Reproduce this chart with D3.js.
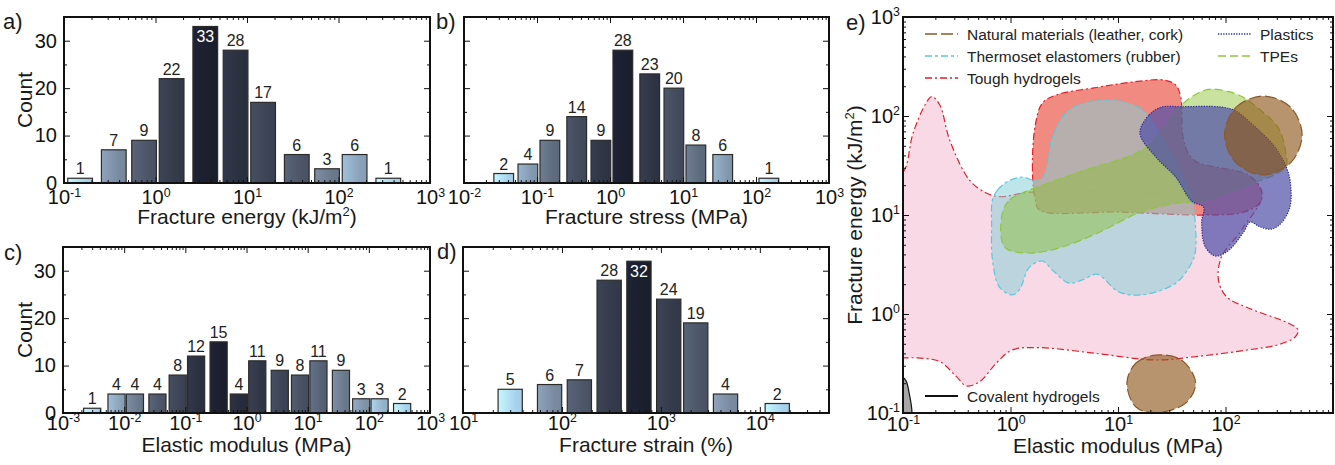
<!DOCTYPE html>
<html>
<head>
<meta charset="utf-8">
<script src="https://cdn.jsdelivr.net/npm/d3@7"></script>
<style>
body { margin: 0; background: #fff; }
svg { font-family: "Liberation Sans", Arial, Helvetica, sans-serif; }
</style>
</head>
<body>
<svg id="fig" width="1335" height="465"></svg>
<script>
//histogram data (bin centres, counts)//
var energyBins = [0.15, 0.35, 0.75, 1.5, 3.5, 7.5, 15, 35, 75, 150, 350];
var energyCounts = [1, 7, 9, 22, 33, 28, 17, 6, 3, 6, 1];

var stressBins = [0.035, 0.075, 0.15, 0.35, 0.75, 1.5, 3.5, 7.5, 15, 35, 150];
var stressCounts = [2, 4, 9, 14, 9, 28, 23, 20, 8, 6, 1];

var modulusBins = [0.003, 0.0075, 0.015, 0.035, 0.075, 0.15, 0.35, 0.75, 1.5, 3.5, 7.5, 15, 35, 75, 150, 350];
var modulusCounts = [1, 4, 4, 4, 8, 12, 15, 4, 11, 9, 8, 11, 9, 3, 3, 2];

var strainBins = [30, 75, 150, 300, 600, 1200, 2250, 4500, 15000];
var strainCounts = [5, 6, 7, 28, 32, 24, 19, 4, 2];

var countTicks = [0, 10, 20, 30];
var countMinor = [5, 15, 25];

//ashby regions: [elastic modulus MPa, fracture energy kJ/m2]//
var toughGels = [[0.08, 27], [0.1, 27.2], [0.124, 67], [0.16, 129], [0.185, 157], [0.22, 129], [0.272, 57],
  [0.417, 22.4], [0.6, 16.6], [0.8, 15.3], [1.5, 17], [20, 17], [214, 16.6], [141, 7.05], [92, 3.8],
  [86, 2.2], [102, 1.5], [163, 1.15], [383, 0.81], [474, 0.69], [445, 0.586], [310, 0.49], [153, 0.43],
  [52, 0.37], [22.3, 0.343], [6.2, 0.4], [1.86, 0.457], [1.03, 0.432], [0.74, 0.32], [0.516, 0.207],
  [0.39, 0.1875], [0.314, 0.233], [0.22, 0.33], [0.134, 0.36], [0.1, 0.36], [0.08, 0.36]];
var toughGelsHigh = [[1.7, 14.2], [1.6, 28.5], [1.7, 81], [1.98, 135], [2.67, 163], [6.67, 196], [13.5, 220],
  [26.7, 231], [34.4, 206], [38.3, 156], [40.8, 57], [50.6, 36], [163, 25.4], [215, 17.9], [211, 13.5],
  [147, 10.7], [65, 10], [10.2, 10.7], [1.86, 11.2]];
var thermosets = [[0.68, 14.2], [0.76, 17.9], [0.92, 21.5], [1.29, 24.2], [1.6, 22.6], [1.98, 23.7], [2.2, 33.5],
  [2.45, 61], [3.5, 115], [7.1, 145], [12.6, 135], [18.2, 107], [29.6, 45.4], [48.4, 15.2], [51.6, 10],
  [52.7, 4.43], [48.4, 3.27], [34.4, 2.05], [16.7, 1.56], [10.2, 1.67], [7.1, 2.37], [6.25, 2.53], [4.6, 2.2],
  [3.5, 2.05], [2.45, 2.78], [1.98, 3.43], [1.5, 2.98], [1.21, 1.75], [1.04, 1.56], [0.79, 1.87], [0.68, 3.5],
  [0.667, 7.9]];
var tpes = [[0.84, 10.5], [0.98, 14.2], [1.29, 16.7], [4.35, 27.2], [16.7, 45.4], [26.7, 75.7], [39, 129],
  [56, 171], [74, 187], [132, 163], [211, 115], [310, 75.7], [360, 45.4], [360, 30.5], [163, 20.1],
  [65, 14.2], [31.6, 12.9], [15.6, 10.5], [6.7, 6.7], [3.03, 4.75], [1.5, 4.13], [0.88, 4.75]];
var plastics = [[16, 67], [19.4, 102], [25.5, 123], [39, 124], [92, 123], [125, 112], [190, 77], [278, 51],
  [354, 33.5], [398, 22.6], [398, 12.1], [330, 8.3], [267, 7.2], [209, 7.6], [170, 8.5], [147, 6.7],
  [107, 4.4], [81, 3.85], [65, 4.75], [60, 8.5], [62.5, 12], [48.4, 13.8], [34.4, 24.2], [22.5, 38.5]];
var naturalTop = [[98, 64.3], [125, 122], [225, 159], [405, 122], [516, 64.3], [405, 33.8], [225, 25.4], [125, 33.8]];
var naturalLow = [[12.1, 0.201], [14.7, 0.32], [22.5, 0.385], [39, 0.343], [52.7, 0.201], [42.7, 0.126],
  [22.5, 0.1007], [14.7, 0.115]];
var covalentGels = [[0.09, 0.1], [0.092, 0.2], [0.1, 0.226], [0.107, 0.21], [0.114, 0.16], [0.121, 0.1],
  [0.115, 0.08], [0.09, 0.08]];

var legendNames = ["Natural materials (leather, cork)", "Thermoset elastomers (rubber)", "Tough hydrogels",
  "Plastics", "TPEs", "Covalent hydrogels"];


var svg = d3.select("#fig");
var defs = svg.append("defs");
var ink = "#1a1a1a";

var shade = d3.scaleLinear()
  .domain([0, 0.5, 0.75, 1])
  .range(["#1b1e2d", "#4c5567", "#7a8ba0", "#a9d3ee"]);

function powLabel(sel) {
  sel.each(function(d) {
    var t = d3.select(this);
    var e = Math.round(Math.log10(d));
    t.text(null);
    t.append("tspan").text("10");
    t.append("tspan").attr("dy", "-0.6em").attr("font-size", "0.62em").text(e);
  });
}

function decades(dom) {
  var out = [];
  for (var e = Math.ceil(Math.log10(dom[0]) - 1e-9); e <= Math.floor(Math.log10(dom[1]) + 1e-9); e++) out.push(Math.pow(10, e));
  return out;
}

function minors(dom) {
  var out = [];
  for (var e = Math.floor(Math.log10(dom[0])); e < Math.log10(dom[1]); e++) {
    for (var m = 2; m < 10; m++) {
      var v = m * Math.pow(10, e);
      if (v > dom[0] * 1.001 && v < dom[1] * 0.999) out.push(v);
    }
  }
  return out;
}

function strip(s) {
  s.select(".domain").remove();
  s.attr("font-size", null).attr("font-family", null);
}

// frame ticks on all four sides, pointing inward
function frameAxes(g, x, y, o) {
  var xd = x.domain();
  var bx = g.append("g").attr("transform", "translate(0," + o.bottom + ")")
    .call(d3.axisBottom(x).tickValues(decades(xd)).tickSize(-6).tickPadding(o.xPad)).call(strip);
  bx.selectAll(".tick text").call(powLabel);
  if (o.xLabelMax) bx.selectAll(".tick text").filter(function(d) { return d > o.xLabelMax; }).remove();
  g.append("g").attr("transform", "translate(0," + o.bottom + ")")
    .call(d3.axisBottom(x).tickValues(minors(xd)).tickSize(-3).tickFormat("")).call(strip);
  g.append("g").attr("transform", "translate(0," + o.top + ")")
    .call(d3.axisTop(x).tickValues(decades(xd)).tickSize(-6).tickFormat("")).call(strip);
  g.append("g").attr("transform", "translate(0," + o.top + ")")
    .call(d3.axisTop(x).tickValues(minors(xd)).tickSize(-3).tickFormat("")).call(strip);

  var ly = g.append("g").attr("transform", "translate(" + o.left + ",0)")
    .call(d3.axisLeft(y).tickValues(o.yMajor).tickSize(-6).tickPadding(o.yPad)
      .tickFormat(o.yFormat)).call(strip);
  if (o.yPow) ly.selectAll(".tick text").call(powLabel);
  g.append("g").attr("transform", "translate(" + o.left + ",0)")
    .call(d3.axisLeft(y).tickValues(o.yMinor).tickSize(-3).tickFormat("")).call(strip);
  g.append("g").attr("transform", "translate(" + o.right + ",0)")
    .call(d3.axisRight(y).tickValues(o.yMajor).tickSize(-6).tickFormat("")).call(strip);
  g.append("g").attr("transform", "translate(" + o.right + ",0)")
    .call(d3.axisRight(y).tickValues(o.yMinor).tickSize(-3).tickFormat("")).call(strip);

  g.append("rect")
    .attr("x", o.left).attr("y", o.top)
    .attr("width", o.right - o.left).attr("height", o.bottom - o.top)
    .attr("fill", "none").attr("stroke", "#111").attr("stroke-width", 2);
}

function titleText(g, parts, x, y, rotate) {
  var t = g.append("text")
    .attr("transform", "translate(" + x + "," + y + ")" + (rotate ? " rotate(-90)" : ""))
    .attr("text-anchor", "middle").attr("font-size", 21).attr("fill", ink);
  t.append("tspan").text(parts[0]);
  if (parts.length > 1) {
    t.append("tspan").attr("dy", -8).attr("font-size", 13).text(parts[1]);
    t.append("tspan").attr("dy", 8).text(parts[2]);
  }
}

function histogram(p) {
  var x = d3.scaleLog().domain(p.domain).range([p.left, p.right]);
  var y = d3.scaleLinear().domain([0, 35]).range([p.bottom, p.top]);
  var g = svg.append("g").attr("font-size", 20).attr("fill", ink).attr("color", "#111");
  var peak = d3.maxIndex(p.counts), n = p.counts.length;
  var half = Math.pow(10, p.barDec / 2);

  p.counts.forEach(function(c, i) {
    var t = i < peak ? (peak - i) / peak : (i > peak ? (i - peak) / (n - 1 - peak) : 0);
    var col = d3.color(shade(t));
    var lg = defs.append("linearGradient").attr("id", p.id + "bar" + i);
    lg.append("stop").attr("offset", "0%").attr("stop-color", col.brighter(0.45).formatHex());
    lg.append("stop").attr("offset", "70%").attr("stop-color", col.formatHex());
    lg.append("stop").attr("offset", "100%").attr("stop-color", col.darker(0.1).formatHex());
  });

  g.selectAll("rect.bar")
    .data(p.bins)
    .enter().append("rect")
    .attr("class", "bar")
    .attr("x", function(d) { return x(d / half); })
    .attr("width", function(d) { return x(d * half) - x(d / half); })
    .attr("y", function(d, i) { return y(p.counts[i]); })
    .attr("height", function(d, i) { return y(0) - y(p.counts[i]); })
    .attr("fill", function(d, i) { return "url(#" + p.id + "bar" + i + ")"; })
    .attr("stroke", "#2b2b2b")
    .attr("stroke-width", 1.2);

  g.selectAll("text.num")
    .data(p.bins)
    .enter().append("text")
    .attr("class", "num")
    .attr("text-anchor", "middle")
    .attr("font-size", 16)
    .attr("x", function(d) { return x(d); })
    .attr("y", function(d, i) {
      var top = y(p.counts[i]);
      return top - 17 < p.top ? top + 16 : top - 4;
    })
    .attr("fill", function(d, i) { return y(p.counts[i]) - 17 < p.top ? "#fff" : "#222"; })
    .text(function(d, i) { return p.counts[i]; });

  frameAxes(g, x, y, {
    left: p.left, right: p.right, top: p.top, bottom: p.bottom,
    xPad: p.xPad, yPad: 7, yMajor: countTicks, yMinor: countMinor,
    yFormat: p.yLabels ? d3.format("d") : ""
  });

  titleText(g, p.title, (p.left + p.right) / 2, p.titleY, false);
  if (p.yLabels) titleText(g, ["Count"], 32, (p.top + p.bottom) / 2, true);
  g.append("text").attr("x", p.letterX).attr("y", p.letterY).attr("font-size", 22).text(p.letter);
}

histogram({ id: "a", left: 64, right: 430, top: 17, bottom: 183, domain: [0.1, 1000],
  bins: energyBins, counts: energyCounts, barDec: 0.27, yLabels: true, xPad: 7,
  title: ["Fracture energy (kJ/m", "2", ")"], titleY: 224, letter: "a)", letterX: 3, letterY: 29 });
histogram({ id: "b", left: 464, right: 829, top: 17, bottom: 183, domain: [0.01, 1000],
  bins: stressBins, counts: stressCounts, barDec: 0.27, yLabels: false, xPad: 7,
  title: ["Fracture stress (MPa)"], titleY: 224, letter: "b)", letterX: 436, letterY: 29 });
histogram({ id: "c", left: 63, right: 430, top: 247, bottom: 413, domain: [0.001, 1000],
  bins: modulusBins, counts: modulusCounts, barDec: 0.28, yLabels: true, xPad: 2.5,
  title: ["Elastic modulus (MPa)"], titleY: 452, letter: "c)", letterX: 4, letterY: 260 });
histogram({ id: "d", left: 463, right: 829, top: 247, bottom: 413, domain: [10, 50000],
  bins: strainBins, counts: strainCounts, barDec: 0.245, yLabels: false, xPad: 2.5,
  title: ["Fracture strain (%)"], titleY: 452, letter: "d)", letterX: 437, letterY: 259 });


//panel e: ashby plot//
var ex = d3.scaleLog().domain([0.1, 1000]).range([903, 1333]);
var ey = d3.scaleLog().domain([0.1, 1000]).range([413, 17]);

var styles = {
  natural: { fill: "#8e551a", op: 0.63, stroke: "#8b5a2b", dash: "12,4" },
  thermo: { fill: "#82cfd7", op: 0.52, stroke: "#5bc8dc", dash: "7,3,3,3" },
  tough: { fill: "#f9d9e6", op: 1, stroke: "#e41e26", dash: "7,3,2,3" },
  toughHigh: { fill: "#f0857b", op: 0.95, stroke: "#e41e26", dash: "7,3,2,3" },
  plastics: { fill: "#4f4fa8", op: 0.7, stroke: "#2b2f9e", dash: "1.3,1.3" },
  tpe: { fill: "#89be2a", op: 0.45, stroke: "#8dc63f", dash: "8,4" },
  covalent: { fill: "#a6a6a6", op: 1, stroke: "#111", dash: null }
};

defs.append("clipPath").attr("id", "eclip")
  .append("rect").attr("x", 903).attr("y", 17).attr("width", 430).attr("height", 396);

var blob = d3.line()
  .x(function(d) { return ex(d[0]); })
  .y(function(d) { return ey(d[1]); })
  .curve(d3.curveCatmullRomClosed.alpha(0.5));

var ge = svg.append("g").attr("font-size", 20).attr("fill", ink).attr("color", "#111");
var regions = ge.append("g").attr("clip-path", "url(#eclip)");

[[toughGels, "tough"], [toughGelsHigh, "toughHigh"], [thermosets, "thermo"], [tpes, "tpe"],
 [plastics, "plastics"], [naturalTop, "natural"], [naturalLow, "natural"], [covalentGels, "covalent"]]
  .forEach(function(r) {
    var s = styles[r[1]];
    regions.append("path")
      .attr("d", blob(r[0]))
      .attr("fill", s.fill).attr("fill-opacity", s.op)
      .attr("stroke", s.stroke).attr("stroke-width", 1.2)
      .attr("stroke-dasharray", s.dash);
  });

frameAxes(ge, ex, ey, {
  left: 903, right: 1333, top: 17, bottom: 413,
  xPad: 4, yPad: 3, yMajor: decades(ey.domain()), yMinor: minors(ey.domain()),
  yFormat: null, yPow: true, xLabelMax: 100
});

titleText(ge, ["Elastic modulus (MPa)"], 1118, 453, false);
titleText(ge, ["Fracture energy (kJ/m", "2", ")"], 862, 215, true);
ge.append("text").attr("x", 846).attr("y", 30).attr("font-size", 22).text("e)");

//legend//
var legendRows = [
  { key: "natural", x: 925, y: 34 },
  { key: "thermo", x: 925, y: 56 },
  { key: "tough", x: 925, y: 78 },
  { key: "plastics", x: 1218, y: 34 },
  { key: "tpe", x: 1218, y: 56 },
  { key: "covalent", x: 925, y: 396 }
];
var leg = ge.append("g").attr("font-size", 15.5).attr("fill", "#222");
legendRows.forEach(function(r, i) {
  var s = styles[r.key];
  leg.append("line")
    .attr("x1", r.x).attr("x2", r.x + 33).attr("y1", r.y).attr("y2", r.y)
    .attr("stroke", s.stroke).attr("stroke-width", r.key === "covalent" ? 2 : 1.6)
    .attr("stroke-dasharray", s.dash);
  leg.append("text")
    .attr("x", r.x + 42).attr("y", r.y).attr("dy", "0.36em")
    .text(legendNames[i]);
});
</script>
</body>
</html>
